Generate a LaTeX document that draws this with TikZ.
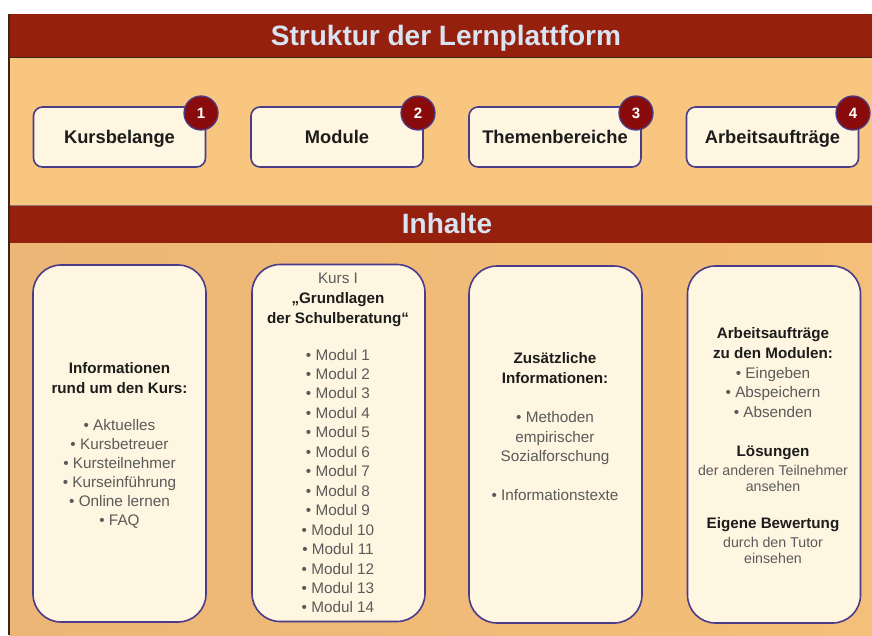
\documentclass[tikz,border=0pt]{standalone}
\usepackage{fontspec}
\setmainfont{Liberation Sans}
\definecolor{bgtop}{HTML}{F9C67F}
\definecolor{bgbot}{HTML}{F4BF79}
\definecolor{bgbotdark}{HTML}{ECB676}
\definecolor{barred}{HTML}{95200D}
\definecolor{boxline}{HTML}{4A3C88}
\definecolor{cream}{HTML}{FFF6E1}
\definecolor{badgered}{HTML}{8A0B0B}
\definecolor{txtdark}{HTML}{1C1C1C}
\definecolor{txtgray}{HTML}{5A5A5A}
\definecolor{titletxt}{HTML}{D8E4F2}
\definecolor{edge}{HTML}{3C2418}
\begin{document}
\begin{tikzpicture}[x=1pt,y=-1pt,
  topbox/.style={draw=boxline, line width=1.6pt, fill=cream, rounded corners=9pt,
    minimum width=172pt, minimum height=60pt, inner sep=0pt,
    text height=13pt, text depth=0pt, text=txtdark,
    font=\bfseries\fontsize{18.3}{20}\selectfont},
  botbox/.style={draw=boxline, line width=1.6pt, fill=cream, rounded corners=28pt,
    minimum width=173pt, minimum height=357pt, inner sep=0pt},
  badge/.style={circle, fill=badgered, draw=boxline, line width=1.3pt,
    minimum size=34pt, inner sep=0pt, text=white,
    font=\bfseries\fontsize{15}{15}\selectfont},
  bartitle/.style={anchor=base, inner sep=0pt, text=titletxt,
    font=\bfseries\fontsize{28}{32}\selectfont},
  hd/.style={anchor=base, inner sep=0pt, text=txtdark,
    font=\bfseries\fontsize{15.2}{18}\selectfont},
  it/.style={anchor=base, inner sep=0pt, text=txtgray,
    font=\fontsize{15.3}{18}\selectfont},
  sm/.style={anchor=base, inner sep=0pt, text=txtgray,
    font=\fontsize{14.2}{16}\selectfont},
]
\useasboundingbox (0,0) rectangle (872,635);
% backgrounds
\fill[white] (0,0) rectangle (872,635);
\fill[bgtop] (9,14) rectangle (872,205);
\shade[left color=bgbotdark, right color=bgbot] (9,243) rectangle (872,635);
\fill[barred] (9,14) rectangle (872,57);
\fill[barred] (9,205) rectangle (872,243);
\draw[edge, line width=0.8pt] (9,57) -- (872,57);
\draw[edge!60, line width=0.6pt] (9,205) -- (872,205);
\draw[edge, line width=1.4pt] (9,14) -- (9,635);

% titles
\node[bartitle] (title) at (446,45) {Struktur der Lernplattform};
\node[bartitle] (inhalte) at (447,233) {Inhalte};

% top boxes
\node[topbox] (kb) at (119.5,137) {Kursbelange};
\node[topbox] (mo) at (337,137) {Module};
\node[topbox] (th) at (555,137) {Themenbereiche};
\node[topbox] (ar) at (772.5,137) {Arbeitsaufträge};
\node[badge] (b1) at (201,113) {1};
\node[badge] (b2) at (418,113) {2};
\node[badge] (b3) at (636,113) {3};
\node[badge] (b4) at (853,113) {4};

% bottom boxes
\node[botbox] (c1) at (119.5,443.5) {};
\node[botbox] (c2) at (338.5,443) {};
\node[botbox] (c3) at (555.5,444.5) {};
\node[botbox] (c4) at (774,444.5) {};

% box 1 text
\node[hd] (c1h1) at (119.5,373) {Informationen};
\node[hd] (c1h2) at (119.5,393) {rund um den Kurs:};
\node[it] (c1i1) at (119.5,430) {• Aktuelles};
\node[it] (c1i2) at (119.5,449) {• Kursbetreuer};
\node[it] (c1i3) at (119.5,468) {• Kursteilnehmer};
\node[it] (c1i4) at (119.5,487) {• Kurseinführung};
\node[it] (c1i5) at (119.5,506) {• Online lernen};
\node[it] (c1i6) at (119.5,525) {• FAQ};

% box 2 text
\node[it] (c2k) at (338,283) {Kurs I};
\node[hd] (c2h1) at (338,303) {„Grundlagen};
\node[hd] (c2h2) at (338,323) {der Schulberatung“};
\foreach \i in {1,...,14}
  \node[it] (m\i) at (338,{360+(\i-1)*19.46}) {• Modul \i};

% box 3 text
\node[hd] (c3h1) at (555,363) {Zusätzliche};
\node[hd] (c3h2) at (555,383) {Informationen:};
\node[it] (c3i1) at (555,422) {• Methoden};
\node[it] (c3i2) at (555,442) {empirischer};
\node[it] (c3i3) at (555,461) {Sozialforschung};
\node[it] (c3i4) at (555,500) {• Informationstexte};

% box 4 text
\node[hd] (c4h1) at (773,338) {Arbeitsaufträge};
\node[hd] (c4h2) at (773,358) {zu den Modulen:};
\node[it] (c4i1) at (773,378) {• Eingeben};
\node[it] (c4i2) at (773,397) {• Abspeichern};
\node[it] (c4i3) at (773,417) {• Absenden};
\node[hd] (c4h3) at (773,456) {Lösungen};
\node[sm] (c4s1) at (773,475) {der anderen Teilnehmer};
\node[sm] (c4s2) at (773,491) {ansehen};
\node[hd] (c4h4) at (773,528) {Eigene Bewertung};
\node[sm] (c4s3) at (773,547) {durch den Tutor};
\node[sm] (c4s4) at (773,563) {einsehen};
\end{tikzpicture}
\end{document}
